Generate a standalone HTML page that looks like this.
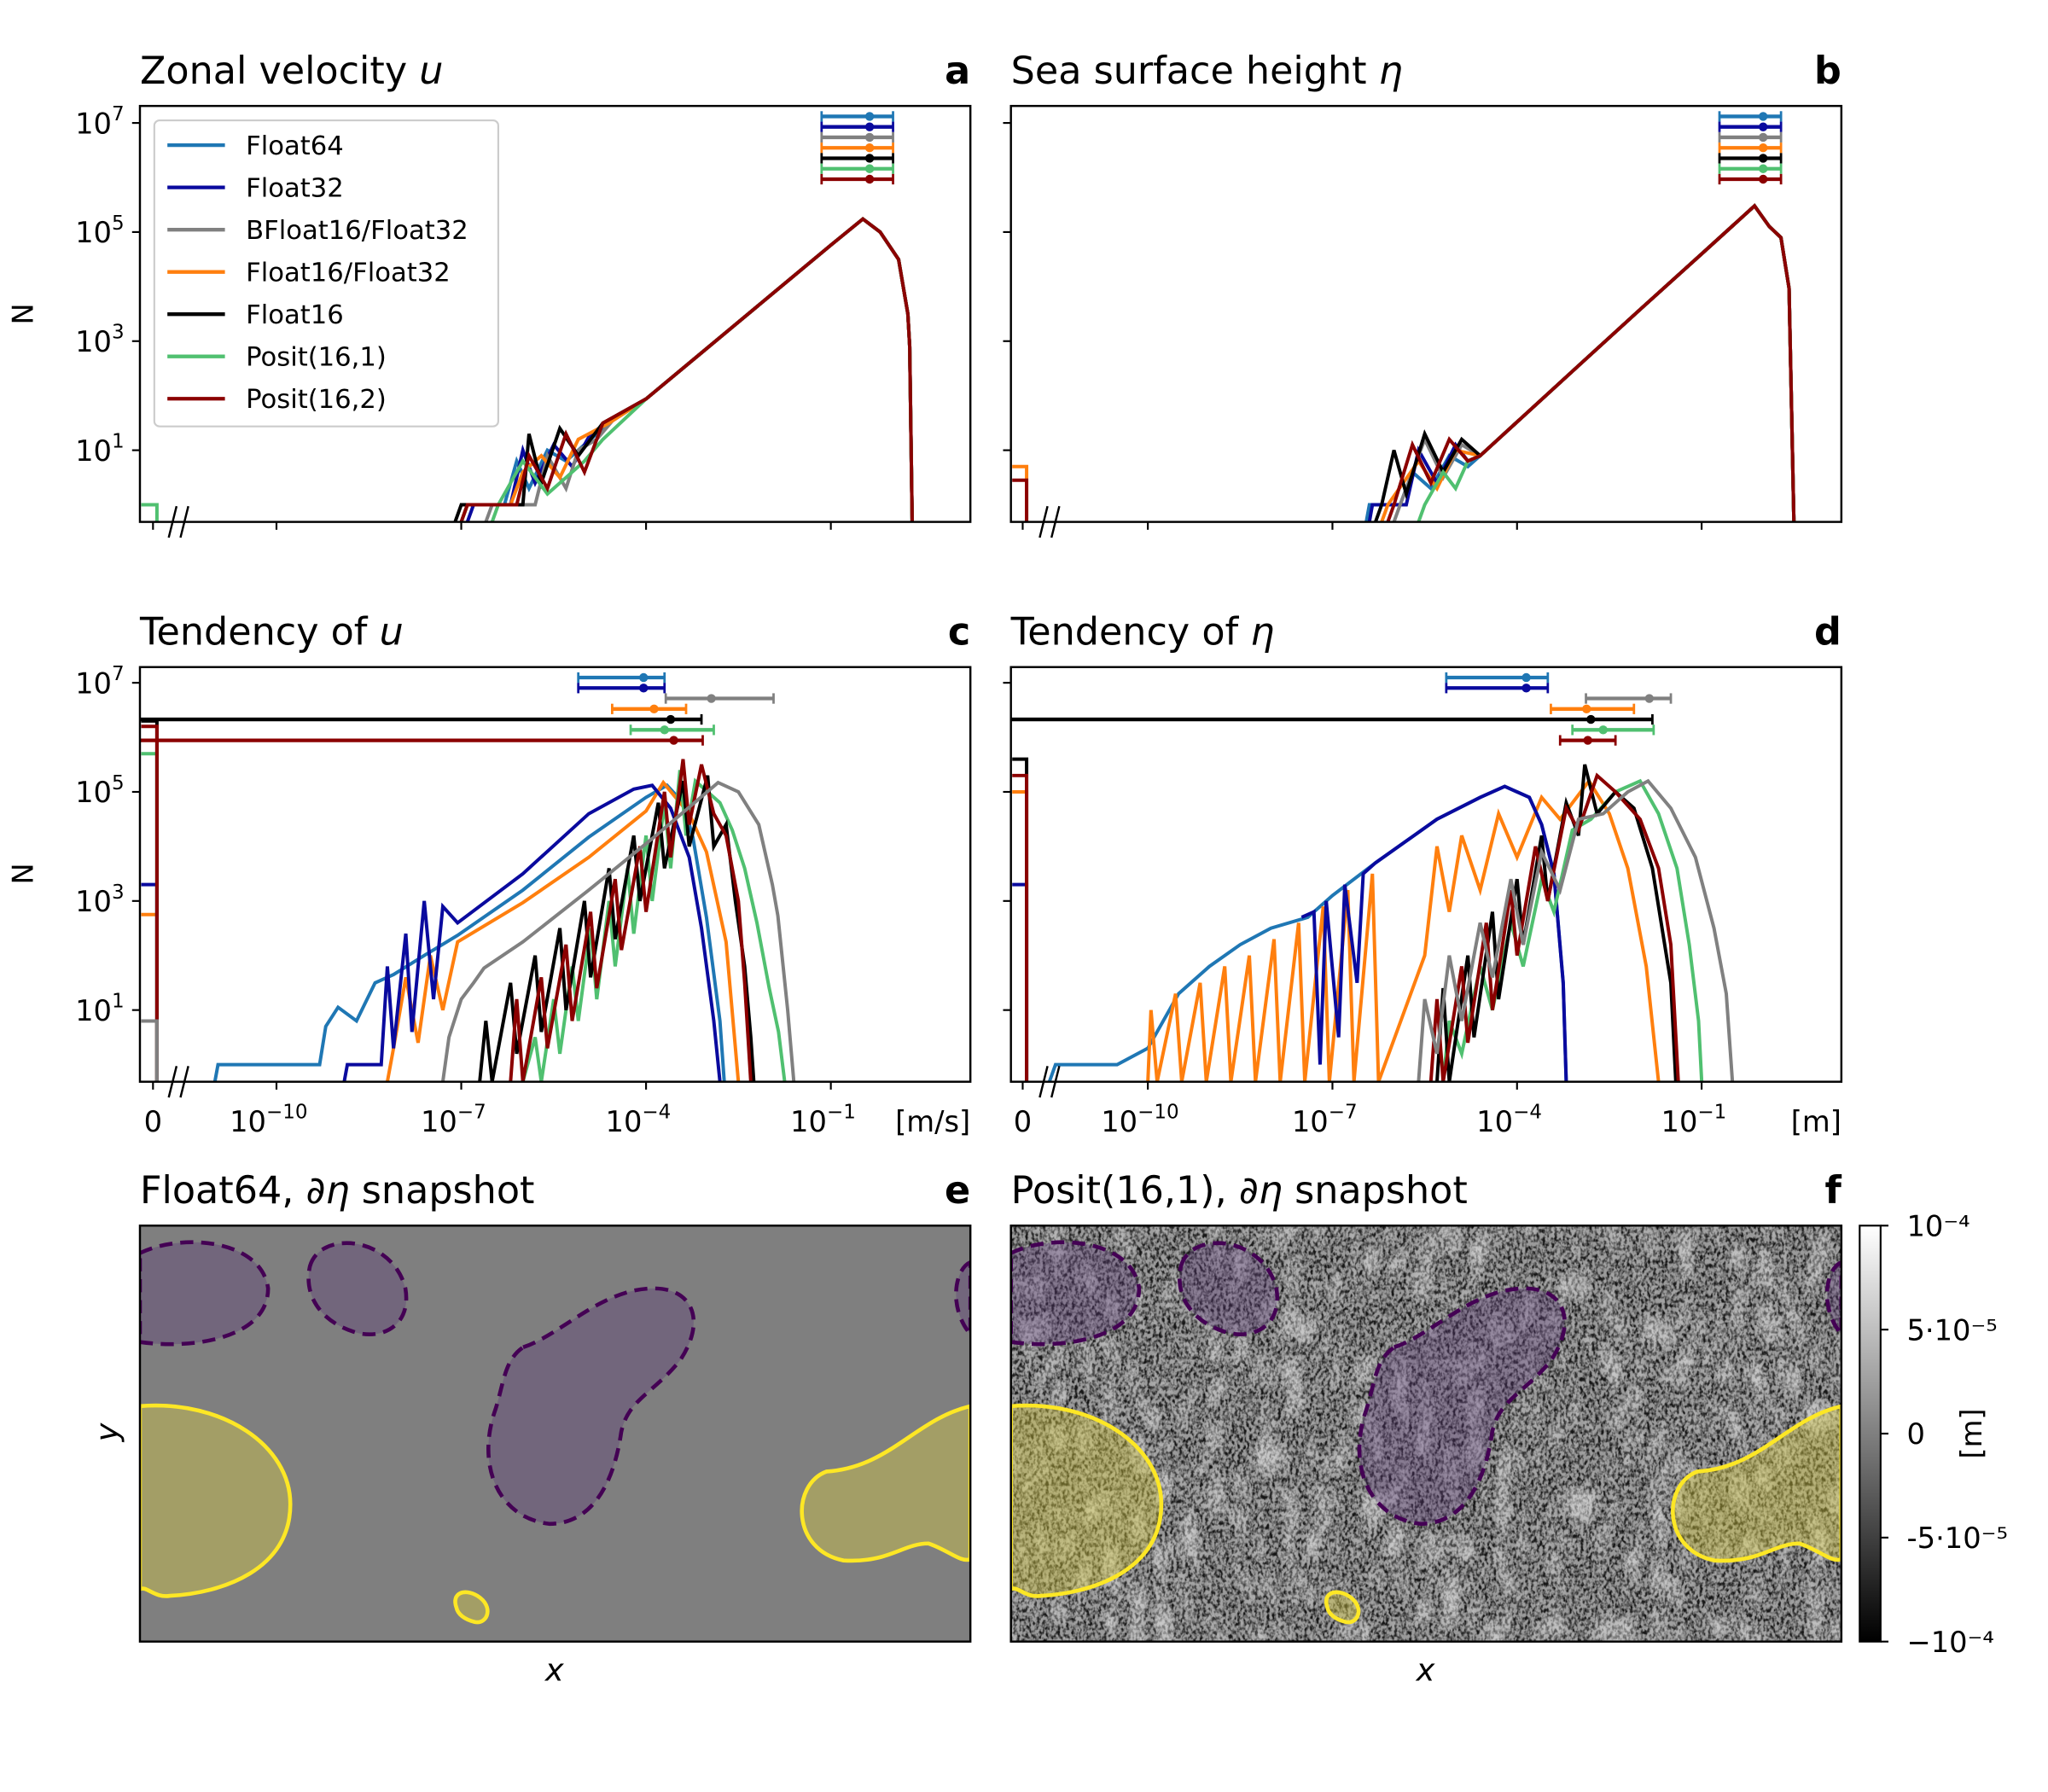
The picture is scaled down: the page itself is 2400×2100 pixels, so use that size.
<!DOCTYPE html>
<html><head><meta charset="utf-8"><style>
html,body{margin:0;padding:0;background:#fff;}
svg{display:block;font-family:"DejaVu Sans","Liberation Sans",sans-serif;}
</style></head><body>
<svg id="fig" xmlns="http://www.w3.org/2000/svg" width="2400" height="2100" viewBox="0 0 1566 1370" preserveAspectRatio="none">
<defs>
<linearGradient id="cbar" x1="0" y1="1" x2="0" y2="0"><stop offset="0" stop-color="#000"/><stop offset="1" stop-color="#fff"/></linearGradient>
<filter id="noise" x="0" y="0" width="100%" height="100%">
<feTurbulence type="fractalNoise" baseFrequency="0.45 0.3" numOctaves="2" seed="4"/>
<feColorMatrix type="matrix" values="0 0 0 0 0  0 0 0 0 0  0 0 0 0 0  2.2 2.2 0 0 -1.9"/>
</filter>
<filter id="noise2" x="0" y="0" width="100%" height="100%">
<feTurbulence type="turbulence" baseFrequency="0.05 0.03" numOctaves="2" seed="9"/>
<feColorMatrix type="matrix" values="0 0 0 0 1  0 0 0 0 1  0 0 0 0 1  2.0 0 0 0 -0.3"/>
</filter>
<clipPath id="clipE"><rect x="107" y="937" width="635" height="318"/></clipPath>
<clipPath id="clipF"><rect x="773" y="937" width="635" height="318"/></clipPath>
</defs>
<g id="root"></g>
</svg>
<script>
// ---------- data ----------
const seriesNames = ["Float64","Float32","BFloat16/Float32","Float16/Float32","Float16","Posit(16,1)","Posit(16,2)"];
const seriesColors = ["#1f77b4","#0a0a9e","#808080","#ff7f0e","#000000","#50c070","#8b0000"];
// panel a: [log10 x, log10 N]
const aTail = [[-4,1.94],[-3,2.88],[-2,3.82],[-1,4.76],[-0.48,5.24],[-0.2,5.0],[0.1,4.5],[0.25,3.5],[0.28,2.9],[0.32,-0.4]];
const aLow = [
 [[-7.0,-0.4],[-6.9,0],[-6.3,0],[-6.1,0.8],[-5.9,0.3],[-5.6,1.0],[-5.3,0.8],[-5.0,1.1],[-4.6,1.5]],
 [[-6.9,-0.4],[-6.8,0],[-6.2,0],[-6.0,1.0],[-5.8,0.4],[-5.5,1.1],[-5.2,0.7],[-4.9,1.3],[-4.5,1.6]],
 [[-6.6,-0.4],[-6.5,0],[-5.8,0],[-5.6,0.9],[-5.3,0.3],[-5.1,1.0],[-4.8,1.2],[-4.5,1.6]],
 [[-7.0,-0.4],[-6.9,0],[-6.2,0],[-6.0,0.6],[-5.7,0.9],[-5.4,0.5],[-5.1,1.2],[-4.6,1.5]],
 [[-7.1,-0.4],[-7.0,0],[-6.0,0],[-5.9,1.3],[-5.7,0.4],[-5.4,1.4],[-5.1,0.9],[-4.7,1.5]],
 [[-6.5,-0.4],[-6.4,0],[-6.0,0.8],[-5.6,0.2],[-5.3,0.5],[-5.0,0.8],[-4.7,1.2]],
 [[-7.0,-0.4],[-6.9,0],[-6.1,0],[-5.9,0.9],[-5.6,0.3],[-5.3,1.3],[-5.0,0.6],[-4.7,1.5]]
];
const aZero = [null,null,null,null,null,0,null];
// panel b
const bTail = [[-4.6,0.9],[-3,2.55],[-2,3.58],[-1,4.6],[-0.14,5.48],[0.1,5.1],[0.29,4.9],[0.42,3.97],[0.5,-0.4]];
const bLow = [
 [[-6.45,-0.4],[-6.4,0],[-5.9,0],[-5.7,0.6],[-5.4,0.3],[-5.1,0.9],[-4.8,0.7]],
 [[-6.4,-0.4],[-6.35,0],[-5.8,0],[-5.6,1.0],[-5.3,0.4],[-5.0,1.1],[-4.8,0.8]],
 [[-6.0,-0.4],[-5.9,0],[-5.5,1.2],[-5.2,0.5],[-4.9,1.1]],
 [[-6.2,-0.4],[-6.1,0],[-5.6,0.8],[-5.3,0.3],[-5.0,1.0]],
 [[-6.3,-0.4],[-6.2,0],[-6.0,1.0],[-5.8,0.2],[-5.5,1.3],[-5.2,0.6],[-4.9,1.2]],
 [[-5.6,-0.4],[-5.5,0],[-5.2,0.6],[-5.0,0.3],[-4.8,0.8]],
 [[-6.1,-0.4],[-6.0,0],[-5.7,1.1],[-5.4,0.4],[-5.1,1.2],[-4.8,0.8]]
];
const bZero = [null,null,null,0.7,null,null,0.45];
// panel c
const cSeries = [
 [[-11,-0.4],[-10.95,0],[-9.3,0],[-9.2,0.7],[-9.0,1.05],[-8.7,0.8],[-8.4,1.5],[-8.1,1.65],[-7.6,2.0],[-7.06,2.37],[-6.0,3.2],[-4.93,4.17],[-4.0,4.9],[-3.66,5.12],[-3.4,4.8],[-3.24,4.17],[-3.02,2.7],[-2.8,0.8],[-2.73,-0.4]],
 [[-8.9,-0.4],[-8.85,0],[-8.3,0],[-8.2,1.8],[-8.1,0.3],[-7.9,2.4],[-7.8,0.6],[-7.6,3.0],[-7.45,1.2],[-7.3,2.9],[-7.06,2.6],[-6.0,3.5],[-4.93,4.6],[-4.2,5.05],[-3.9,5.12],[-3.6,4.7],[-3.3,3.8],[-3.1,2.5],[-2.9,0.8],[-2.8,-0.4]],
 [[-7.3,-0.4],[-7.2,0.5],[-7.0,1.2],[-6.8,1.5],[-6.63,1.77],[-6.0,2.25],[-4.93,3.2],[-3.87,4.17],[-2.83,5.17],[-2.5,5.0],[-2.17,4.4],[-1.95,3.3],[-1.86,2.73],[-1.7,1.0],[-1.6,-0.4]],
 [[-8.2,-0.4],[-8.1,0.3],[-7.9,1.6],[-7.7,0.4],[-7.5,2.0],[-7.3,1.0],[-7.06,2.25],[-6.0,2.97],[-4.93,3.8],[-4.0,4.65],[-3.72,5.17],[-3.3,4.6],[-3.02,3.9],[-2.7,2.25],[-2.5,-0.4]],
 [[-6.7,-0.4],[-6.6,0.8],[-6.5,-0.4],[-6.2,1.5],[-6.1,0.2],[-5.8,2.0],[-5.7,0.6],[-5.4,2.5],[-5.3,1.0],[-5.0,3.0],[-4.9,1.6],[-4.6,3.6],[-4.5,2.3],[-4.2,4.2],[-4.1,3.0],[-3.8,4.8],[-3.7,3.6],[-3.4,5.2],[-3.3,4.0],[-3.0,5.3],[-2.9,4.0],[-2.7,4.4],[-2.55,3.0],[-2.4,1.8],[-2.3,0.5],[-2.25,-0.4]],
 [[-6.0,-0.4],[-5.8,0.5],[-5.7,-0.4],[-5.5,1.2],[-5.4,0.2],[-5.2,1.8],[-5.1,0.8],[-4.9,2.5],[-4.8,1.2],[-4.6,3.0],[-4.5,1.8],[-4.3,3.6],[-4.2,2.4],[-4.0,4.2],[-3.9,3.0],[-3.7,4.8],[-3.6,3.6],[-3.45,5.4],[-3.35,4.2],[-3.2,5.2],[-3.0,5.0],[-2.8,4.8],[-2.6,4.3],[-2.4,3.6],[-2.2,2.6],[-2.0,1.4],[-1.85,0.6],[-1.75,-0.4]],
 [[-6.2,-0.4],[-6.1,1.2],[-6.0,-0.4],[-5.7,1.6],[-5.6,0.3],[-5.3,2.2],[-5.2,0.8],[-4.9,2.8],[-4.8,1.4],[-4.5,3.4],[-4.4,2.1],[-4.1,4.0],[-4.0,2.8],[-3.7,5.0],[-3.6,3.8],[-3.4,5.6],[-3.3,4.4],[-3.1,5.5],[-2.9,4.6],[-2.7,4.2],[-2.5,3.0],[-2.4,1.5],[-2.3,-0.4]]
];
const cZero = [null,3.3,0.8,2.75,6.3,5.7,6.2];
// panel d
const dSeries = [
 [[-11.6,-0.4],[-11.5,0],[-10.5,0],[-10,0.3],[-9.5,1.3],[-9,1.8],[-8.5,2.2],[-8,2.5],[-7.4,2.7],[-7,3.1],[-6.3,3.7],[-5.3,4.5],[-4.6,4.9],[-4.2,5.1],[-3.8,4.9],[-3.6,4.4],[-3.4,3.5],[-3.25,1.5],[-3.2,-0.4]],
 [[-7.5,2.7],[-7.3,2.8],[-7.2,0],[-7.1,3.0],[-6.9,0.5],[-6.8,3.3],[-6.6,1.5],[-6.5,3.5],[-6.3,3.7],[-5.3,4.5],[-4.6,4.9],[-4.2,5.1],[-3.8,4.9],[-3.6,4.4],[-3.4,3.5],[-3.25,1.5],[-3.2,-0.4]],
 [[-5.6,-0.4],[-5.5,1.2],[-5.3,0.2],[-5.1,2.0],[-4.9,0.8],[-4.6,2.6],[-4.4,1.6],[-4.1,3.4],[-3.9,2.2],[-3.6,3.9],[-3.3,3.2],[-3.0,4.5],[-2.6,4.6],[-2.2,5.0],[-1.87,5.2],[-1.5,4.7],[-1.1,3.8],[-0.8,2.5],[-0.6,1.3],[-0.5,-0.4]],
 [[-10.0,-0.4],[-9.95,1.0],[-9.85,-0.4],[-9.55,1.3],[-9.45,-0.4],[-9.15,1.5],[-9.05,-0.4],[-8.75,1.8],[-8.65,-0.4],[-8.35,2.0],[-8.25,-0.4],[-7.95,2.3],[-7.85,-0.4],[-7.55,2.6],[-7.45,-0.4],[-7.15,2.9],[-7.05,-0.4],[-6.75,3.2],[-6.65,-0.4],[-6.35,3.5],[-6.25,-0.4],[-5.5,2.0],[-5.3,4.0],[-5.1,2.8],[-4.9,4.2],[-4.6,3.2],[-4.3,4.6],[-4.0,3.8],[-3.6,4.9],[-3.3,4.5],[-2.83,5.2],[-2.5,4.6],[-2.2,3.6],[-1.9,1.8],[-1.7,-0.4]],
 [[-5.3,-0.4],[-5.2,1.4],[-5.1,-0.4],[-4.8,2.0],[-4.7,0.5],[-4.4,2.8],[-4.3,1.2],[-4.0,3.4],[-3.9,2.2],[-3.6,4.2],[-3.5,3.0],[-3.2,4.8],[-3.0,4.2],[-2.9,5.5],[-2.7,4.6],[-2.4,5.0],[-2.1,4.7],[-1.8,3.6],[-1.5,1.5],[-1.42,-0.4]],
 [[-5.2,-0.4],[-5.1,0.8],[-4.9,0.2],[-4.6,1.8],[-4.4,1.0],[-4.1,2.6],[-3.9,1.8],[-3.6,3.4],[-3.4,2.8],[-3.1,4.3],[-2.8,4.5],[-2.4,5.0],[-2.0,5.2],[-1.7,4.6],[-1.4,3.6],[-1.2,2.2],[-1.05,0.8],[-1.0,-0.4]],
 [[-5.4,-0.4],[-5.3,1.2],[-5.2,-0.4],[-4.9,1.8],[-4.8,0.4],[-4.5,2.6],[-4.4,1.0],[-4.1,3.2],[-4.0,2.0],[-3.7,4.0],[-3.5,3.0],[-3.2,4.7],[-3.0,4.3],[-2.7,5.3],[-2.4,5.0],[-2.0,4.5],[-1.7,3.6],[-1.5,2.2],[-1.38,-0.4]]
];
const dZero = [null,3.3,null,5.0,5.6,null,5.3];
// error bars [low, centre, high] in log10 x; -99 = extends to zero
const aErr = [[-1.15,-0.37,0.01],[-1.15,-0.37,0.01],[-1.15,-0.37,0.01],[-1.15,-0.37,0.01],[-1.15,-0.37,0.01],[-1.15,-0.37,0.01],[-1.15,-0.37,0.01]];
const bErr = [[-0.71,0.0,0.29],[-0.71,0.0,0.29],[-0.71,0.0,0.29],[-0.71,0.0,0.29],[-0.71,0.0,0.29],[-0.71,0.0,0.29],[-0.71,0.0,0.29]];
const cErr = [[-5.1,-4.04,-3.7],[-5.1,-4.04,-3.7],[-3.68,-2.94,-1.93],[-4.55,-3.87,-3.35],[-99,-3.6,-3.1],[-4.25,-3.7,-2.9],[-99,-3.55,-3.08]];
const dErr = [[-5.15,-3.85,-3.5],[-5.15,-3.85,-3.5],[-2.88,-1.85,-1.5],[-3.45,-2.87,-2.1],[-99,-2.8,-1.8],[-3.1,-2.6,-1.78],[-3.3,-2.85,-2.4]];
const errRows = [0,1,2,3,4,5,6];
const yTickExp = [7,5,3,1];
const xTickExp = [-10,-7,-4,-1];

// ---------- rendering ----------
const NS="http://www.w3.org/2000/svg";
const root=document.getElementById('root');
function mk(tag,attrs,parent,text){const e=document.createElementNS(NS,tag);for(const k in attrs)e.setAttribute(k,attrs[k]);if(text!==undefined)e.textContent=text;(parent||root).appendChild(e);return e;}

function makeAxes(p){
  p.X=e=>p.xRef+(e-p.logRef)*p.dec;
  p.Y=n=>Math.min(p.y1,p.y7+(7-n)*41.7);
  return p;
}
const panels={
 a:makeAxes({x0:107,x1:742,y0:81,y1:399,xZero:117,xRef:494,logRef:-4,dec:47.1,y7:94}),
 b:makeAxes({x0:773,x1:1408,y0:81,y1:399,xZero:782,xRef:1160,logRef:-4,dec:47.05,y7:94}),
 c:makeAxes({x0:107,x1:742,y0:510,y1:827,xZero:117,xRef:494,logRef:-4,dec:47.1,y7:522}),
 d:makeAxes({x0:773,x1:1408,y0:510,y1:827,xZero:782,xRef:1160,logRef:-4,dec:47.05,y7:522})
};

function linePath(p,pts){
  let d='M'+p.X(pts[0][0]).toFixed(1)+' '+p.Y(pts[0][1]).toFixed(1);
  for(let i=1;i<pts.length;i++){d+=' L'+p.X(pts[i][0]).toFixed(1)+' '+p.Y(pts[i][1]).toFixed(1);}
  return d;
}

function drawPanel(key,series,zeros,errs,title,titleVar,letter,showXLabels,unit){
  const p=panels[key];
  const g=mk('g',{});
  
  
  const cg=mk('g',{},g);
  const ord = key==='c'||key==='d' ? [0,3,1,5,4,6,2] : [0,1,2,3,4,5,6];
  ord.forEach(i=>{
    if(!series[i])return;
    const path=mk('path',{d:linePath(p,series[i]),fill:'none',stroke:seriesColors[i],'stroke-width':2.6,'stroke-linejoin':'miter'},cg);
    
    
    if(zeros[i]!==null){
      const y=p.Y(zeros[i]);
      const zp=mk('path',{d:`M${p.x0+1} ${y} H${p.xZero+3} V${p.y1}`,fill:'none',stroke:seriesColors[i],'stroke-width':2.6},cg);
      
      
    }
  });
  errRows.forEach(i=>{
    const e=errs[i];const y=p.y0+8+i*8;
    const xl=e[0]<-50?p.x0:p.X(e[0]);const xh=p.X(e[2]);
    const eb=mk('g',{},g);
    
    
    mk('line',{x1:xl,x2:xh,y1:y,y2:y,stroke:seriesColors[i],'stroke-width':2.8},eb);
    if(e[0]>-50)mk('line',{x1:xl,x2:xl,y1:y-4,y2:y+4,stroke:seriesColors[i],'stroke-width':1.8},eb);
    mk('line',{x1:xh,x2:xh,y1:y-4,y2:y+4,stroke:seriesColors[i],'stroke-width':1.8},eb);
    mk('circle',{cx:p.X(e[1]),cy:y,r:3.4,fill:seriesColors[i]},eb);
  });
  const fr=mk('rect',{x:p.x0,y:p.y0,width:p.x1-p.x0,height:p.y1-p.y0,fill:'none',stroke:'#000','stroke-width':1.6},g);
  
  
  yTickExp.forEach(n=>{
    const y=p.Y(n);
    mk('line',{x1:p.x0-6,x2:p.x0,y1:y,y2:y,stroke:'#000','stroke-width':1.4},g);
    if(key==='a'||key==='c'){
      const t=mk('text',{x:p.x0-12,y:y+8,'text-anchor':'end','font-size':22},g);
      
      
      mk('tspan',{},t,'10');
      mk('tspan',{'font-size':15,dy:-10},t,String(n));
    }
  });
  mk('line',{x1:p.xZero,x2:p.xZero,y1:p.y1,y2:p.y1+6,stroke:'#000','stroke-width':1.4},g);
  xTickExp.forEach(n=>{
    const x=p.X(n);
    mk('line',{x1:x,x2:x,y1:p.y1,y2:p.y1+6,stroke:'#000','stroke-width':1.4},g);
    if(showXLabels){
      const t=mk('text',{x:x-6,y:p.y1+38,'text-anchor':'middle','font-size':22},g);
      
      
      mk('tspan',{},t,'10');
      mk('tspan',{'font-size':15,dy:-10},t,'\u2212'+String(-n));
    }
  });
  if(showXLabels){
    const z=mk('text',{x:p.xZero,y:p.y1+38,'text-anchor':'middle','font-size':22},g,'0');
    
    const u=mk('text',{x:p.x1,y:p.y1+38,'text-anchor':'end','font-size':22},g,unit);
    
  }
  const bx=p.x0+22;
  mk('path',{d:`M${bx} ${p.y1+12} L${bx+6} ${p.y1-12} M${bx+9} ${p.y1+12} L${bx+15} ${p.y1-12}`,stroke:'#000','stroke-width':1.6,fill:'none'},g);
  const tt=mk('text',{x:p.x0,y:p.y0-17,'font-size':29},g);
  
  mk('tspan',{},tt,title);mk('tspan',{'font-style':'italic'},tt,titleVar);
  const lt=mk('text',{x:p.x1,y:p.y0-17,'text-anchor':'end','font-size':29,'font-weight':'bold'},g,letter);
  
}

const aSeries=aLow.map(l=>l.concat(aTail));
const bSeries=bLow.map(l=>l.concat(bTail));
drawPanel('a',aSeries,aZero,aErr,'Zonal velocity ','u','a',false,'');
drawPanel('b',bSeries,bZero,bErr,'Sea surface height ','\u03b7','b',false,'');
drawPanel('c',cSeries,cZero,cErr,'Tendency of ','u','c',true,'[m/s]');
drawPanel('d',dSeries,dZero,dErr,'Tendency of ','\u03b7','d',true,'[m]');

[[25,240],[25,668]].forEach(([x,y])=>{
  const t=mk('text',{x:x,y:y,'font-size':22,'text-anchor':'middle',transform:`rotate(-90 ${x} ${y})`},root,'N');
  
});

const lg=mk('g',{});

mk('rect',{x:118,y:92,width:263,height:234,rx:4,fill:'#fff','fill-opacity':0.85,stroke:'#ccc','stroke-width':1.4},lg);
seriesNames.forEach((n,i)=>{
  const y=111+i*32.3;
  const en=mk('g',{},lg);
  
  mk('line',{x1:128,x2:172,y1:y,y2:y,stroke:seriesColors[i],'stroke-width':2.8},en);
  mk('text',{x:188,y:y+7,'font-size':20},en,n);
});

function snapshot(key,x0,noisy,title,letter){
  const g=mk('g',{});
  
  const inner=mk('g',{'clip-path':`url(#clip${key.toUpperCase()})`},g);
  mk('rect',{x:x0,y:937,width:635,height:318,fill:noisy?'#9a9a9a':'#7f7f7f'},inner);
  if(noisy){
    mk('rect',{x:x0,y:937,width:635,height:318,fill:'#000',filter:'url(#noise)',opacity:0.85},inner);
    mk('rect',{x:x0,y:937,width:635,height:318,fill:'#fff',filter:'url(#noise2)',opacity:0.45},inner);
  }
  const dx=x0-107;
  const purple=[
    'M107,958 C140,942 200,948 205,985 C205,1022 150,1032 107,1026 Z',
    'M237,968 C245,940 300,945 310,985 C315,1015 290,1025 270,1018 C245,1010 232,990 237,968 Z',
    'M400,1030 C430,1020 460,985 500,985 C530,985 540,1010 520,1040 C500,1065 480,1070 475,1095 C470,1130 455,1165 420,1165 C380,1160 365,1120 378,1080 C385,1060 385,1040 400,1030 Z',
    'M742,965 C730,970 725,1000 742,1020 Z'];
  const yellow=[
    'M107,1075 C170,1070 222,1105 222,1150 C222,1200 170,1218 130,1220 C118,1222 112,1212 107,1215 Z',
    'M742,1075 C700,1085 680,1122 632,1125 C605,1135 605,1185 645,1193 C680,1195 690,1180 710,1180 C725,1185 735,1195 742,1192 Z',
    'M349,1229 C345,1218 355,1214 365,1220 C378,1228 373,1242 363,1240 C355,1238 350,1234 349,1229 Z'];
  purple.forEach(d=>{const p=mk('path',{d:d,transform:`translate(${dx},0)`,fill:'#5b3a78','fill-opacity':0.35,stroke:'#440154','stroke-width':3,'stroke-dasharray':'10 6'},inner);
    });
  yellow.forEach(d=>{const p=mk('path',{d:d,transform:`translate(${dx},0)`,fill:'#d9cc40','fill-opacity':0.4,stroke:'#fde725','stroke-width':3},inner);
    });
  mk('rect',{x:x0,y:937,width:635,height:318,fill:'none',stroke:'#000','stroke-width':1.6},g);
  const tt=mk('text',{x:x0,y:920,'font-size':29},g);
  
  mk('tspan',{},tt,title+', \u2202');mk('tspan',{'font-style':'italic'},tt,'\u03b7');mk('tspan',{},tt,' snapshot');
  const lt=mk('text',{x:x0+635,y:920,'text-anchor':'end','font-size':29,'font-weight':'bold'},g,letter);
  
  const xl=mk('text',{x:x0+317,y:1285,'text-anchor':'middle','font-size':24,'font-style':'italic'},g,'x');
  
}
snapshot('e',107,false,'Float64','e');
snapshot('f',773,true,'Posit(16,1)','f');
{const x=90,y=1095;const t=mk('text',{x:x,y:y,'text-anchor':'middle','font-size':24,'font-style':'italic',transform:`rotate(-90 ${x} ${y})`},root,'y');
 }

const cbTicks=['10\u207b\u2074','5\u00b710\u207b\u2075','0','-5\u00b710\u207b\u2075','\u221210\u207b\u2074'];
const cb=mk('g',{});

mk('rect',{x:1422,y:937,width:16,height:318,fill:'url(#cbar)',stroke:'#000','stroke-width':1.4},cb);
cbTicks.forEach((t,i)=>{
  const y=937+i*318/4;
  mk('line',{x1:1438,x2:1444,y1:y,y2:y,stroke:'#000','stroke-width':1.4},cb);
  mk('text',{x:1458,y:y+8,'font-size':22},cb,t);
});
{const x=1515,y=1096;const t=mk('text',{x:x,y:y,'text-anchor':'middle','font-size':22,transform:`rotate(-90 ${x} ${y})`},cb,'[m]');
 }
</script>
</body></html>
